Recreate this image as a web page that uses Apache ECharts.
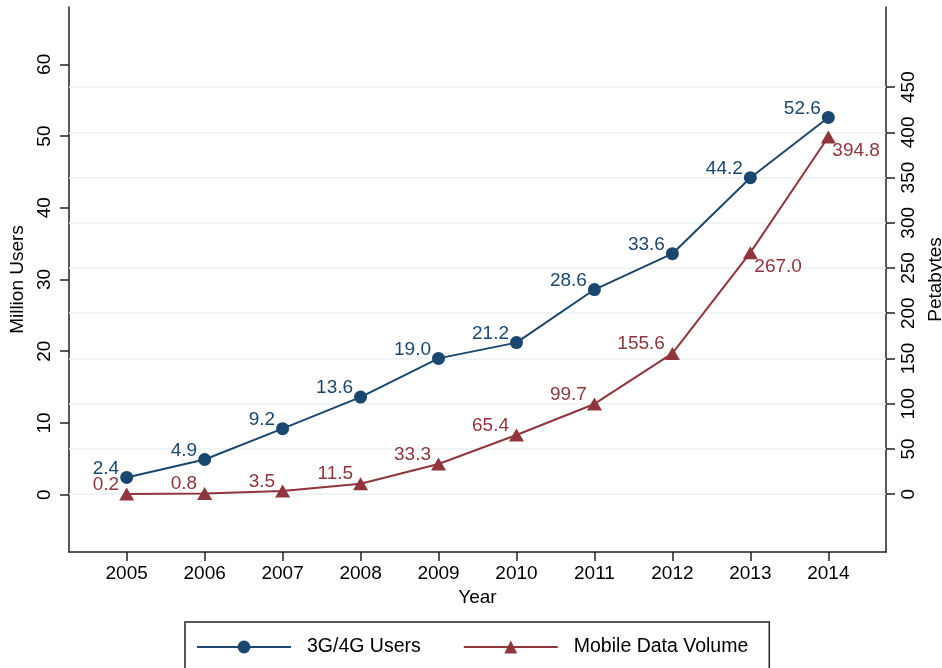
<!DOCTYPE html>
<html>
<head>
<meta charset="utf-8">
<title>3G/4G Users and Mobile Data Volume</title>
<script src="https://cdn.jsdelivr.net/npm/echarts@6.0.0/dist/echarts.min.js"></script>
<style>
  html, body { margin: 0; padding: 0; background: #fff; }
  #chart { width: 942px; height: 668px; }
</style>
</head>
<body>
<div id="chart"></div>
<script>
// data
const years = [2005, 2006, 2007, 2008, 2009, 2010, 2011, 2012, 2013, 2014];
const users = [2.4, 4.9, 9.2, 13.6, 19.0, 21.2, 28.6, 33.6, 44.2, 52.6];
const dataVolume = [0.2, 0.8, 3.5, 11.5, 33.3, 65.4, 99.7, 155.6, 267.0, 394.8];
const leftTicks = [0, 10, 20, 30, 40, 50, 60];
const rightTicks = [0, 50, 100, 150, 200, 250, 300, 350, 400, 450];

const blue = "#1a476f";
const red = "#90353b";
const axisColor = "#222";
const font = "'Liberation Sans', Arial, sans-serif";

const chart = echarts.init(document.getElementById("chart"));

const axisCommon = {
  axisLine: { show: true, onZero: false, lineStyle: { color: axisColor, width: 1.5 } },
  axisTick: { show: true, length: 9, lineStyle: { color: axisColor, width: 1.5 } },
  splitLine: { show: false },
  nameTextStyle: { color: "#000", fontSize: 19, fontFamily: font },
};

chart.setOption({
  animation: false,
  backgroundColor: "#fff",
  grid: {
    left: 69,
    right: 56,
    top: 7,
    bottom: 116,
    containLabel: false,
    outerBoundsMode: "none",
  },
  legend: {
    left: 185,
    top: 622,
    itemWidth: 94,
    itemHeight: 16,
    itemGap: 42,
    padding: [15, 21, 40, 11],
    borderColor: axisColor,
    borderWidth: 1.5,
    textStyle: { color: "#000", fontSize: 19.5, fontFamily: font, padding: [0, 0, 0, 11] },
    data: ["3G/4G Users", "Mobile Data Volume"],
  },
  xAxis: {
    ...axisCommon,
    type: "value",
    min: 2004.26,
    max: 2014.74,
    name: "Year",
    nameLocation: "middle",
    nameGap: 33,
    axisTick: { ...axisCommon.axisTick, customValues: years },
    axisLabel: {
      customValues: years,
      margin: 12,
      color: "#000",
      fontSize: 19,
      fontFamily: font,
      formatter: (v) => String(v),
    },
  },
  yAxis: [
    {
      ...axisCommon,
      type: "value",
      position: "left",
      min: -8,
      max: 68,
      name: "Million Users",
      nameLocation: "middle",
      nameGap: 41,
      axisTick: { ...axisCommon.axisTick, customValues: leftTicks },
      axisLabel: {
        customValues: leftTicks,
        rotate: 90,
        margin: 15,
        color: "#000",
        fontSize: 19,
        fontFamily: font,
      },
    },
    {
      ...axisCommon,
      type: "value",
      position: "right",
      min: -64,
      max: 538.6,
      name: "Petabytes",
      nameLocation: "middle",
      nameGap: 34,
      axisTick: { ...axisCommon.axisTick, customValues: rightTicks },
      axisLabel: {
        customValues: rightTicks,
        rotate: 90,
        margin: 13,
        color: "#000",
        fontSize: 19,
        fontFamily: font,
      },
    },
  ],
  series: [
    {
      name: "3G/4G Users",
      type: "line",
      yAxisIndex: 0,
      z: 3,
      data: years.map((y, i) => [y, users[i]]),
      symbol: "circle",
      symbolSize: 13,
      lineStyle: { color: blue, width: 2 },
      itemStyle: { color: blue },
      label: {
        show: true,
        position: "left",
        distance: 1,
        offset: [0, -9],
        color: blue,
        fontSize: 19,
        fontFamily: font,
        formatter: (p) => p.value[1].toFixed(1),
      },
    },
    {
      name: "Mobile Data Volume",
      type: "line",
      yAxisIndex: 1,
      z: 3,
      // last two labels sit below-right of the marker
      data: years.map((y, i) =>
        i < 8
          ? [y, dataVolume[i]]
          : { value: [y, dataVolume[i]], label: { position: "right", distance: 0, offset: [-3.5, 14] } }
      ),
      symbol: "triangle",
      symbolSize: [15, 13],
      lineStyle: { color: red, width: 2 },
      itemStyle: { color: red },
      label: {
        show: true,
        position: "left",
        distance: 0,
        offset: [0, -9.5],
        color: red,
        fontSize: 19,
        fontFamily: font,
        formatter: (p) => p.value[1].toFixed(1),
      },
      // grid lines sit on the right axis ticks
      markLine: {
        silent: true,
        z: 1,
        symbol: ["none", "none"],
        label: { show: false },
        lineStyle: { color: "#eaf2f3", width: 1.5, type: "solid" },
        emphasis: { disabled: true },
        data: rightTicks.map((v) => ({ yAxis: v })),
      },
    },
  ],
});
</script>
</body>
</html>
